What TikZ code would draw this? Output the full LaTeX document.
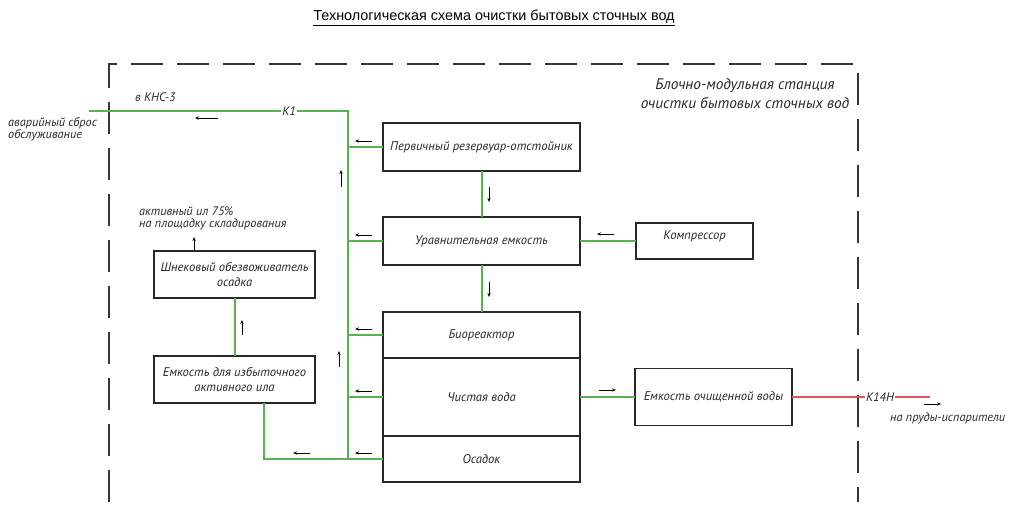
\documentclass[tikz,border=0pt]{standalone}
\usepackage{fontspec}
\setmainfont{PT Sans}
\newfontfamily\titlefont{Liberation Sans}
\usetikzlibrary{positioning,arrows.meta,calc}
\definecolor{PipeGreen}{RGB}{88,178,82}
\definecolor{PipeRed}{RGB}{226,84,84}
\definecolor{FrameGrey}{RGB}{55,55,55}
\definecolor{InkGrey}{RGB}{40,40,40}
\newcommand\cadfont{\itshape\fontsize{12.6}{14.5}\selectfont}
\newcommand\cadsmall{\itshape\fontsize{12.3}{11.5}\selectfont}
\tikzset{
  pipe/.style={line width=2pt,draw=PipeGreen},
  redpipe/.style={line width=1.6pt,draw=PipeRed},
  tick/.style={-{Stealth[length=4pt,width=3.2pt]},line width=0.8pt,draw=black},
  box/.style={draw=InkGrey,line width=1.3pt,fill=white,align=center,
    font=\cadfont,text=InkGrey,inner sep=0pt,outer sep=0pt},
  frame/.style={draw=FrameGrey,line width=1.4pt,dash pattern=on 32pt off 14pt},
  lbl/.style={font=\cadsmall,text=InkGrey,inner sep=0pt,align=left}
}

\begin{document}
\begin{tikzpicture}[x=1pt,y=-1pt]
  \useasboundingbox (0,0) rectangle (1014,512);
  \node[font=\titlefont\fontsize{14.4}{17}\selectfont] (title) at (494,18)
    {\underline{Технологическая схема очистки бытовых сточных вод}};
  % station frame
  \draw[frame] (109,502) -- (109,64) -- (858,64) -- (858,502);
  \node[lbl,font=\itshape\fontsize{15.3}{19}\selectfont,align=center] (stn) at (745,93.5)
    {Блочно-модульная станция\\очистки бытовых сточных вод};

  \node[box,minimum width=197pt,minimum height=48pt] (perv) at (481.5,147)
    {Первичный резервуар-отстойник};
  \node[box,below=46pt of perv,minimum width=197pt,minimum height=48pt] (ur)
    {Уравнительная емкость};
  \node[box,right=56pt of ur,minimum width=117pt,minimum height=36pt,
    text height=9pt,text depth=12pt] (comp) {Компрессор};
  \node[box,below=47pt of ur,minimum width=197pt,minimum height=46pt] (bio)
    {Биореактор};
  \node[box,below=0pt of bio,minimum width=197pt,minimum height=78pt] (voda)
    {Чистая вода};
  \node[box,below=0pt of voda,minimum width=197pt,minimum height=46pt] (osadok)
    {Осадок};
  \node[box,right=55pt of voda,minimum width=157pt,minimum height=57pt] (emk)
    {Емкость очищенной воды};
  \node[box,minimum width=161pt,minimum height=47pt] (shnek) at (234.5,274.5)
    {Шнековый обезвоживатель\\осадка};
  \node[box,below=58pt of shnek,minimum width=161pt,minimum height=47pt] (izb)
    {Емкость для избыточного\\активного ила};

  \coordinate (out) at (89,111);
  \coordinate (kn) at (348,111);
  \coordinate (sl) at ($(izb.south)+(29.5,0)$);
  \coordinate (redend) at ($(emk.east)+(138,0)$);
  \coordinate (hup) at ($(shnek.north)+(-40.5,0)$);

  % pipes
  \draw[pipe] (out) -- (kn) -- (kn |- osadok.west);
  \draw[pipe] (perv.west) -- (perv.west -| kn);
  \draw[pipe] (ur.west) -- (ur.west -| kn);
  \draw[pipe] (bio.west) -- (bio.west -| kn);
  \draw[pipe] (voda.west) -- (voda.west -| kn);
  \draw[pipe] (osadok.west) -- (sl |- osadok.west) -- (sl);
  \draw[pipe] (perv) -- (ur);
  \draw[pipe] (ur) -- (bio);
  \draw[pipe] (comp) -- (ur);
  \draw[pipe] (voda) -- (emk);
  \draw[pipe] (izb) -- (shnek);
  \draw[redpipe] (emk) -- (redend);

  % flow directions
  \draw[tick] ($(kn)+(-130,7)$) -- ++(-23,0);
  \draw[tick] ($(perv.west)+(-11,-6)$) -- ++(-17,0);
  \draw[tick] ($(ur.west)+(-11,-6)$) -- ++(-17,0);
  \draw[tick] ($(bio.west)+(-11,-6)$) -- ++(-17,0);
  \draw[tick] ($(voda.west)+(-11,-6)$) -- ++(-17,0);
  \draw[tick] ($(osadok.west)+(-11,-6)$) -- ++(-17,0);
  \draw[tick] ($(sl |- osadok.west)+(46,-6)$) -- ++(-17,0);
  \draw[tick] ($(comp.west)+(-22,-7)$) -- ++(-17,0);
  \draw[tick] ($(voda.east)+(19,-7)$) -- ++(17,0);
  \draw[tick] ($(kn)+(-7,76)$) -- ++(0,-17);
  \draw[tick] ($(kn |- bio.west)+(-9,32)$) -- ++(0,-16);
  \draw[tick] ($(izb.north)+(7.5,-21)$) -- ++(0,-15);
  \draw[tick] ($(perv.south)+(7.5,16)$) -- ++(0,15);
  \draw[tick] ($(ur.south)+(7.5,17)$) -- ++(0,15);
  \draw[tick] ($(redend)+(-6,7)$) -- ++(17,0);
  \draw[tick] (hup) -- ++(0,-14);

  % labels
  \node[lbl,anchor=west] (kns) at (135,97) {в КНС-3};
  \node[lbl,fill=white,inner xsep=1pt] (k1) at (289,111) {К1};
  \node[lbl,anchor=west,font=\itshape\fontsize{12.3}{9.5}\selectfont] (avar) at (8,129)
    {аварийный сброс\\обслуживание};
  \node[lbl,anchor=south west] (il) at (139,230)
    {активный ил 75\%\\на площадку складирования};
  \node[lbl,fill=white,inner xsep=1pt] (k14) at (880,397) {К14Н};
  \node[lbl,anchor=west] (prud) at (890,418) {на пруды-испарители};
\end{tikzpicture}
\end{document}
